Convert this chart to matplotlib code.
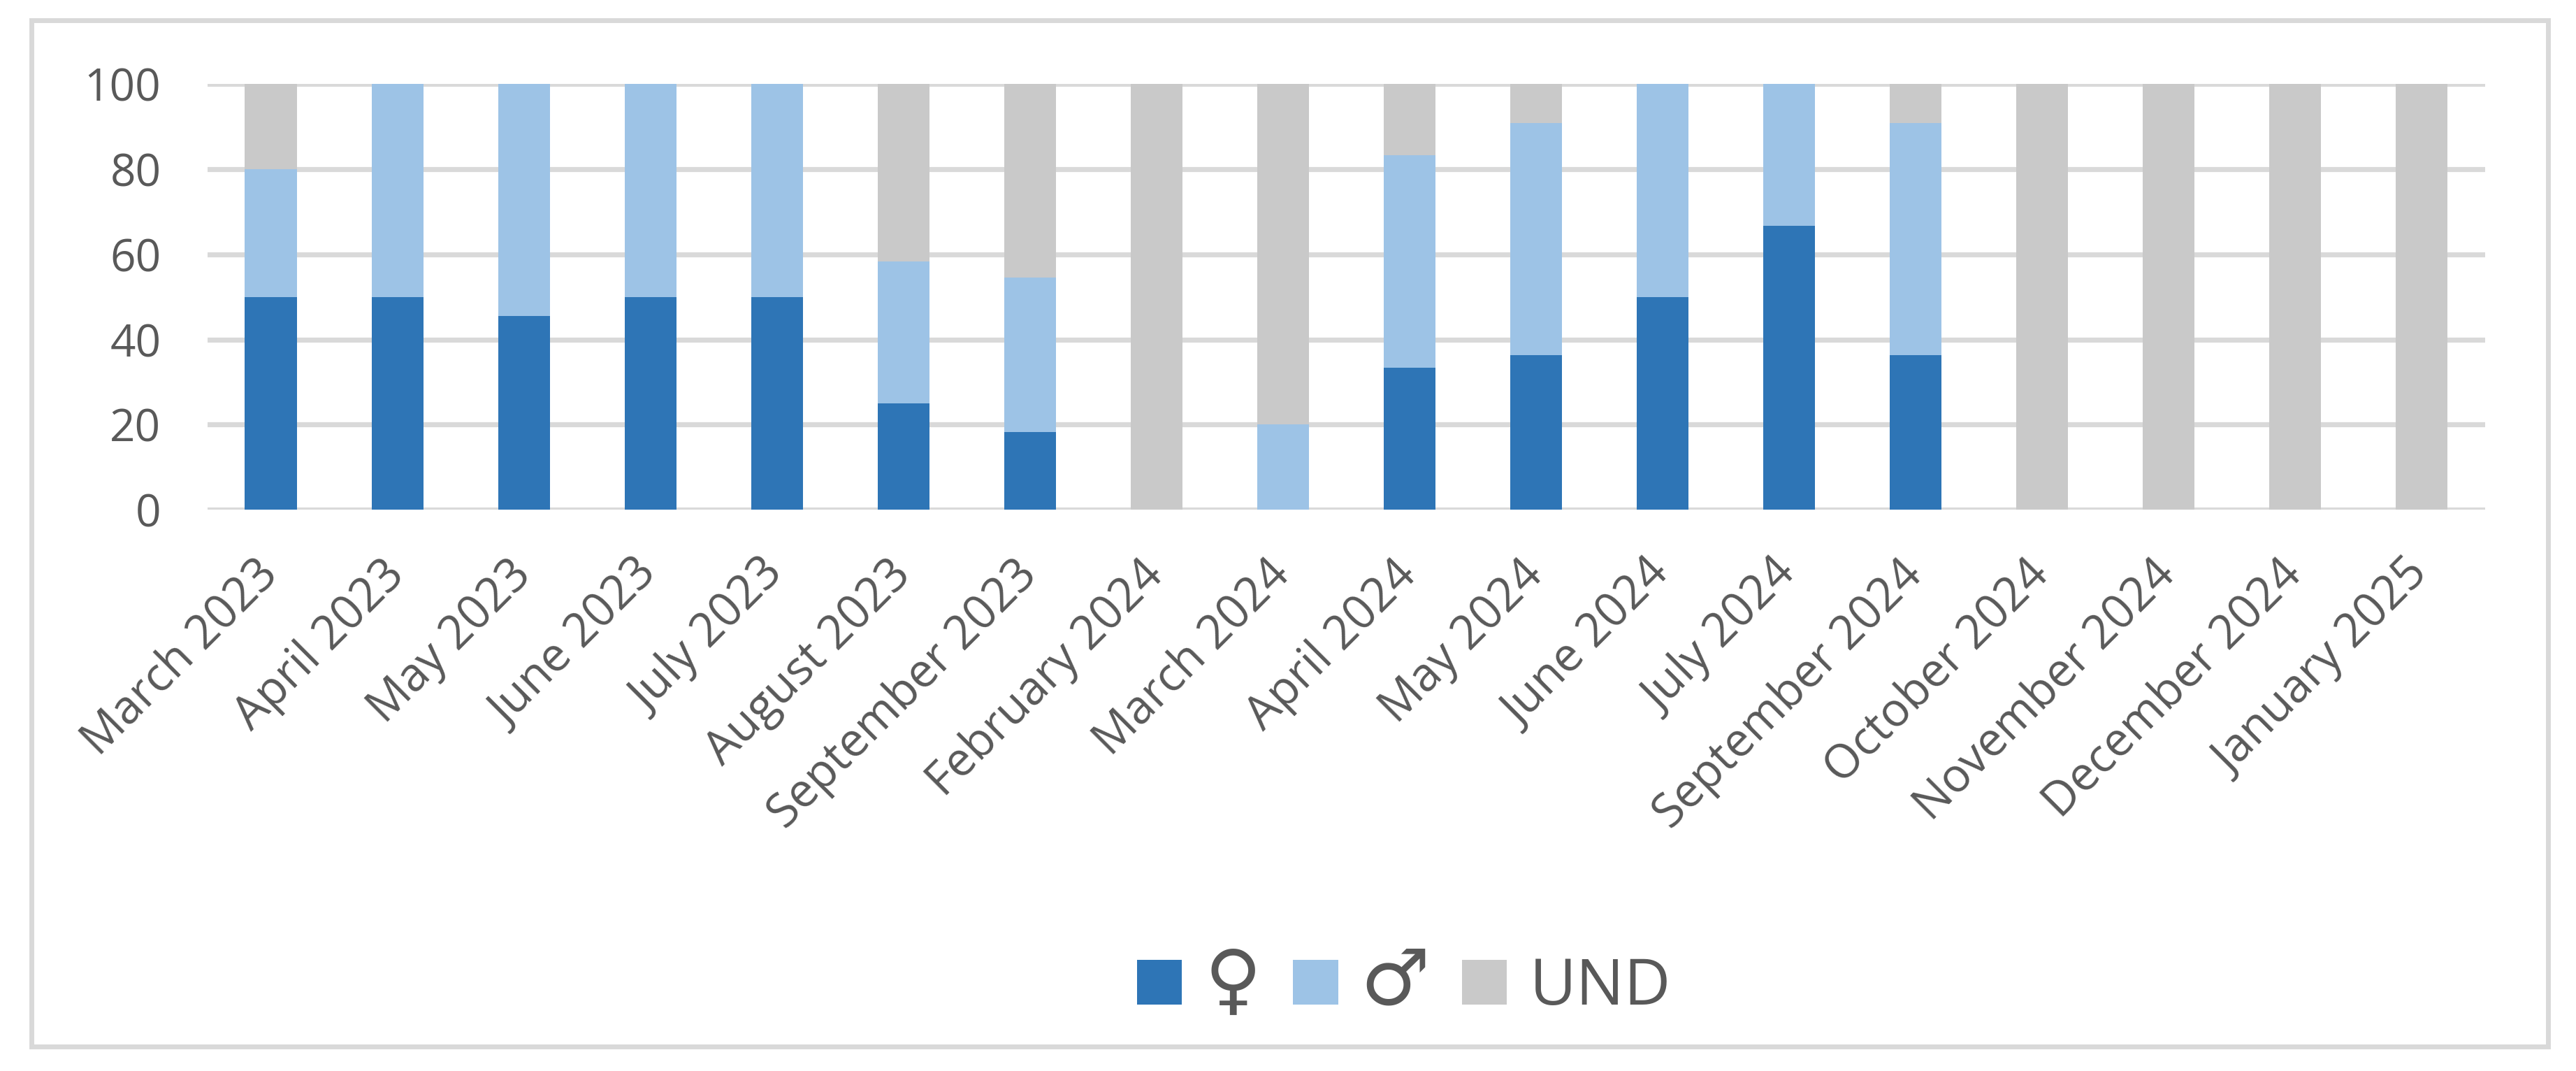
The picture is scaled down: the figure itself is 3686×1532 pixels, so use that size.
import numpy as np
from matplotlib import pyplot as plt
from matplotlib.patches import Rectangle

# data (percent)
months = ["March 2023", "April 2023", "May 2023", "June 2023", "July 2023",
          "August 2023", "September 2023", "February 2024", "March 2024",
          "April 2024", "May 2024", "June 2024", "July 2024", "September 2024",
          "October 2024", "November 2024", "December 2024", "January 2025"]
female = [50, 50, 45.5, 50, 50, 25, 18.2, 0, 0, 33.3, 36.4, 50, 66.7, 36.4, 0, 0, 0, 0]
male = [30, 50, 54.5, 50, 50, 33.3, 36.4, 0, 20, 50, 54.5, 50, 33.3, 54.5, 0, 0, 0, 0]
und = [20, 0, 0, 0, 0, 41.7, 45.4, 100, 80, 16.7, 9.1, 0, 0, 9.1, 100, 100, 100, 100]
series_names = ["\u2640", "\u2642", "UND"]
colors = ["#2E75B6", "#9DC3E6", "#C9C9C9"]

plt.rcParams['font.family'] = ['Open Sans', 'DejaVu Sans']
txt = "#595959"

fig = plt.figure(figsize=(18.43, 7.66), dpi=200)
ax = fig.add_axes([0.0806, 0.524, 0.884, 0.3976])

x = np.arange(len(months))
w = 0.41
f = np.array(female)
m = np.array(male)
u = np.array(und)
ax.bar(x, f, w, color=colors[0], label=series_names[0], zorder=3)
ax.bar(x, m, w, bottom=f, color=colors[1], label=series_names[1], zorder=3)
ax.bar(x, u, w, bottom=f + m, color=colors[2], label=series_names[2], zorder=3)

ax.set_xlim(-0.5, len(months) - 0.5)
ax.set_ylim(0, 100)
ax.set_yticks(range(0, 101, 20))
ax.yaxis.grid(True, color="#D9D9D9", linewidth=2.6, zorder=0)
ax.set_axisbelow(True)
for s in ax.spines.values():
    s.set_visible(False)
ax.tick_params(axis='both', length=0, colors=txt)
ax.tick_params(axis='y', pad=24, labelsize=23)
ax.tick_params(axis='x', pad=30, labelsize=24)
ax.set_xticks(x)
ax.set_xticklabels(months, rotation=45, ha='right', va='center',
                   rotation_mode='anchor')

# outer chart border
fig.patches.append(Rectangle((0.0122, 0.023), 0.9770, 0.958, transform=fig.transFigure,
                             fill=False, edgecolor="#D9D9D9", linewidth=2.5))

leg = fig.legend(loc='center', bbox_to_anchor=(0.545, 0.081), ncol=3, frameon=False,
                 fontsize=33, handlelength=0.7, handleheight=0.7,
                 handletextpad=0.35, columnspacing=0.5)
for i, t in enumerate(leg.get_texts()):
    t.set_color(txt)
    if i < 2:
        t.set_fontsize(40)

plt.savefig("out.png", dpi=200)
